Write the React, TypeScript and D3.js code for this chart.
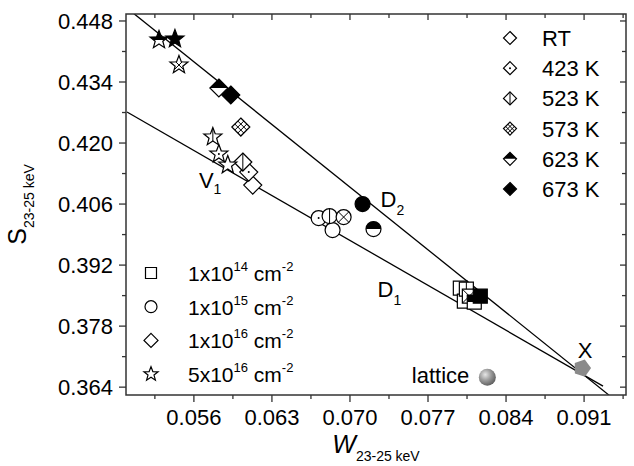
import React from 'react';
import * as d3 from 'd3';

// annealing temperatures (one marker fill per temperature)
const temps = ['RT', '423 K', '523 K', '573 K', '623 K', '673 K'];
const fills = ['open', 'dot', 'vline', 'cross', 'half', 'full'];

// implantation doses
const doseMant = ['1', '1', '1', '5'];
const doseExp = ['14', '15', '16', '16'];
const doseShape = ['square', 'circle', 'diamond', 'star'];

// W and S values, per dose, ordered as temps
const w14 = [0.0799, 0.08026, 0.08044, 0.08071, 0.08115, 0.08169];
const s14 = [0.38672, 0.38374, 0.38649, 0.38488, 0.38351, 0.38488];
const w15 = [0.06844, 0.06719, 0.06817, 0.06943, 0.07211, 0.07113];
const s15 = [0.40003, 0.40279, 0.40324, 0.40302, 0.40026, 0.406];
const w16 = [0.06128, 0.06092, 0.06039, 0.06021, 0.05824, 0.05931];
const s16 = [0.41036, 0.41334, 0.41564, 0.42367, 0.43262, 0.43102];
const w5e16 = [0.05904, 0.05824, 0.0577, 0.05466, 0.05287, 0.0543];
const s5e16 = [0.41495, 0.41747, 0.42138, 0.4379, 0.44364, 0.44387];

const seriesW = [w14, w15, w16, w5e16];
const seriesS = [s14, s15, s16, s5e16];

// reference points
const latticeW = 0.08232;
const latticeS = 0.36629;
const xDefW = 0.09082;
const xDefS = 0.36836;

// straight lines D1 and D2 (end points)
const lineD1 = [[0.05, 0.42711], [0.0927, 0.36423]];
const lineD2 = [[0.05054, 0.44984], [0.09324, 0.36216]];

const xTicks = [0.056, 0.063, 0.07, 0.077, 0.084, 0.091];
const xMinor = [0.0525, 0.0595, 0.0665, 0.0735, 0.0805, 0.0875, 0.0945];
const yTicks = [0.364, 0.378, 0.392, 0.406, 0.42, 0.434, 0.448];
const yMinor = [0.371, 0.385, 0.399, 0.413, 0.427, 0.441];

const FONT = '"Liberation Sans", Arial, Helvetica, sans-serif';
const L = 126, R = 626, T = 14, B = 395;

const x = d3.scaleLinear().domain([0.04991, 0.09476]).range([L, R]);
const y = d3.scaleLinear().domain([0.3622, 0.4496]).range([B, T]);

function shapePath(shape: string, s: number) {
  if (shape === 'square') return `M${-s},${-s}H${s}V${s}H${-s}Z`;
  if (shape === 'circle') return `M${s},0A${s},${s} 0 1,1 ${-s},0A${s},${s} 0 1,1 ${s},0Z`;
  if (shape === 'diamond') return `M0,${-s}L${s},0L0,${s}L${-s},0Z`;
  // five pointed star
  const pts: string[] = [];
  for (let i = 0; i < 10; i++) {
    const r = i % 2 === 0 ? s : s * 0.42;
    const a = -Math.PI / 2 + (i * Math.PI) / 5;
    pts.push(`${(r * Math.cos(a)).toFixed(2)},${(r * Math.sin(a)).toFixed(2)}`);
  }
  return 'M' + pts.join('L') + 'Z';
}

function Marker(props: { shape: string; fill: string; cx: number; cy: number; s: number; id: string }) {
  const { shape, fill, cx, cy, s, id } = props;
  const d = shapePath(shape, s);
  const clipId = `clip-${id}`;
  let deco: React.ReactNode = null;
  if (fill === 'dot') {
    deco = <circle r={1} fill="#000" />;
  } else if (fill === 'vline') {
    deco = <line y1={-s} y2={s} stroke="#000" strokeWidth={1} clipPath={`url(#${clipId})`} />;
  } else if (fill === 'cross') {
    if (shape === 'diamond') {
      const o = (s * Math.SQRT2) / 6;
      const k = o * Math.SQRT2;
      deco = (
        <g clipPath={`url(#${clipId})`} stroke="#000" strokeWidth={1}>
          {[-k, k].map((c, i) => (
            <g key={i}>
              <line x1={-s * 2} y1={-s * 2 + c} x2={s * 2} y2={s * 2 + c} />
              <line x1={-s * 2} y1={s * 2 + c} x2={s * 2} y2={-s * 2 + c} />
            </g>
          ))}
        </g>
      );
    } else {
      deco = (
        <g clipPath={`url(#${clipId})`} stroke="#000" strokeWidth={1}>
          <line x1={-s} y1={-s} x2={s} y2={s} />
          <line x1={-s} y1={s} x2={s} y2={-s} />
        </g>
      );
    }
  } else if (fill === 'half') {
    deco = <path d={d} fill="#000" clipPath="url(#top-half)" />;
  }
  return (
    <g transform={`translate(${cx},${cy})`}>
      <defs>
        <clipPath id={clipId}>
          <path d={d} />
        </clipPath>
      </defs>
      <path d={d} fill={fill === 'full' ? '#000' : '#fff'} />
      {deco}
      <path d={d} fill="none" stroke="#000" strokeWidth={1.2} />
    </g>
  );
}

const markSize: Record<string, number> = { square: 7, circle: 7.5, diamond: 9, star: 9.5 };
const legendSize: Record<string, number> = { square: 5.5, circle: 6, diamond: 7, star: 7.5 };

export default function App() {
  const pentagon = d3.range(5).map(i => {
    const a = -Math.PI / 2 + 0.3 + (i * 2 * Math.PI) / 5;
    return [9 * Math.cos(a), 9 * Math.sin(a)];
  });
  return (
    <svg width={634} height={466} style={{ position: 'absolute', left: 0, top: 0, background: '#fff' }} fontFamily={FONT}>
      <defs>
        <clipPath id="top-half">
          <rect x={-30} y={-30} width={60} height={30} />
        </clipPath>
        <clipPath id="plot-area">
          <rect x={L} y={T} width={R - L} height={B - T} />
        </clipPath>
        <radialGradient id="ball" cx="0.38" cy="0.35" r="0.7">
          <stop offset="0" stopColor="#e6e6e6" />
          <stop offset="0.5" stopColor="#9a9a9a" />
          <stop offset="1" stopColor="#5a5a5a" />
        </radialGradient>
      </defs>

      {/* fit lines */}
      <g clipPath="url(#plot-area)" stroke="#000" strokeWidth={1.3}>
        {[lineD1, lineD2].map((ln, i) => (
          <line key={i} x1={x(ln[0][0])} y1={y(ln[0][1])} x2={x(ln[1][0])} y2={y(ln[1][1])} />
        ))}
      </g>

      {/* data markers */}
      {seriesW.map((ws, di) =>
        ws.map((w, ti) => (
          <Marker
            key={`${di}-${ti}`}
            id={`m${di}-${ti}`}
            shape={doseShape[di]}
            fill={fills[ti]}
            cx={x(w)}
            cy={y(seriesS[di][ti])}
            s={markSize[doseShape[di]]}
          />
        ))
      )}

      {/* lattice and X */}
      <circle cx={x(latticeW)} cy={y(latticeS)} r={8.5} fill="url(#ball)" />
      <text x={x(latticeW) - 18} y={y(latticeS) + 6} fontSize={22} textAnchor="end">lattice</text>
      <path
        d={'M' + pentagon.map(p => p.join(',')).join('L') + 'Z'}
        transform={`translate(${x(xDefW)},${y(xDefS)})`}
        fill="#8a8a8a"
      />
      <text x={x(xDefW) + 3} y={y(xDefS) - 10} fontSize={22} textAnchor="middle">X</text>

      {/* line labels */}
      <text x={x(0.05645)} y={y(0.40967)} fontSize={22}>V<tspan fontSize={14} dy={6}>1</tspan></text>
      <text x={x(0.07274)} y={y(0.40531)} fontSize={22}>D<tspan fontSize={14} dy={8}>2</tspan></text>
      <text x={x(0.07247)} y={y(0.38465)} fontSize={22}>D<tspan fontSize={14} dy={8}>1</tspan></text>

      {/* frame */}
      <rect x={L} y={T} width={R - L} height={B - T} fill="none" stroke="#333" strokeWidth={1.5} />

      {/* x axis ticks */}
      {xTicks.map(t => (
        <g key={t}>
          <line x1={x(t)} x2={x(t)} y1={B} y2={B + 7} stroke="#333" strokeWidth={1.3} />
          <line x1={x(t)} x2={x(t)} y1={T} y2={T + 6} stroke="#333" strokeWidth={1.3} />
          <text x={x(t)} y={425} fontSize={22} textAnchor="middle">{t.toFixed(3)}</text>
        </g>
      ))}
      {xMinor.map(t => (
        <g key={t}>
          <line x1={x(t)} x2={x(t)} y1={B} y2={B + 4} stroke="#333" strokeWidth={1.3} />
          <line x1={x(t)} x2={x(t)} y1={T} y2={T + 4} stroke="#333" strokeWidth={1.3} />
        </g>
      ))}

      {/* y axis ticks */}
      {yTicks.map(t => (
        <g key={t}>
          <line x1={L - 7} x2={L} y1={y(t)} y2={y(t)} stroke="#333" strokeWidth={1.3} />
          <line x1={R - 6} x2={R} y1={y(t)} y2={y(t)} stroke="#333" strokeWidth={1.3} />
          <text x={113} y={y(t) + 8} fontSize={22} textAnchor="end">{t.toFixed(3)}</text>
        </g>
      ))}
      {yMinor.map(t => (
        <g key={t}>
          <line x1={L - 4} x2={L} y1={y(t)} y2={y(t)} stroke="#333" strokeWidth={1.3} />
          <line x1={R - 4} x2={R} y1={y(t)} y2={y(t)} stroke="#333" strokeWidth={1.3} />
        </g>
      ))}

      {/* axis titles */}
      <text x={(L + R) / 2} y={453} textAnchor="middle">
        <tspan fontSize={25} fontStyle="italic">W</tspan>
        <tspan fontSize={14} dy={8}>23-25 keV</tspan>
      </text>
      <text transform={`translate(26,${(T + B) / 2}) rotate(-90)`} textAnchor="middle">
        <tspan fontSize={25}>S</tspan>
        <tspan fontSize={14} dy={8}>23-25 keV</tspan>
      </text>

      {/* temperature legend */}
      {temps.map((t, i) => {
        const cy = 38 + i * 30.2;
        return (
          <g key={t}>
            <Marker id={`lt${i}`} shape="diamond" fill={fills[i]} cx={510} cy={cy} s={6.5} />
            <text x={542} y={cy + 8} fontSize={22}>{t}</text>
          </g>
        );
      })}

      {/* dose legend */}
      {doseShape.map((sh, i) => {
        const cy = 273 + i * 33.7;
        return (
          <g key={sh}>
            <Marker id={`ld${i}`} shape={sh} fill="open" cx={151} cy={cy} s={legendSize[sh]} />
            <text x={188} y={cy + 8} fontSize={21}>
              {doseMant[i]}x10<tspan fontSize={13} dy={-10}>{doseExp[i]}</tspan>
              <tspan dy={10}> cm</tspan>
              <tspan fontSize={13} dy={-10}>-2</tspan>
            </text>
          </g>
        );
      })}
    </svg>
  );
}
